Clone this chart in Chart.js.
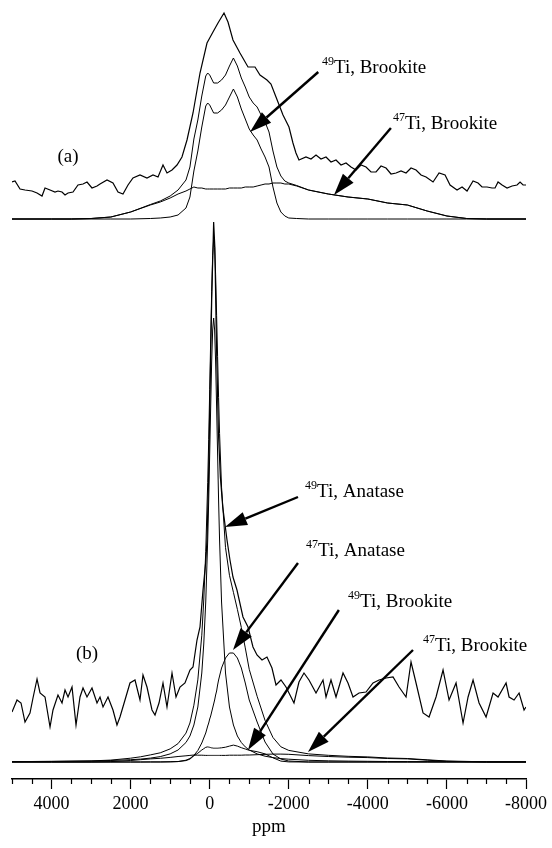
<!DOCTYPE html>
<html>
<head>
<meta charset="utf-8">
<script src="https://cdn.jsdelivr.net/npm/chart.js@4.4.1/dist/chart.umd.min.js"></script>
<style>
  html, body { margin: 0; padding: 0; background: #fff; }
  canvas { display: block; }
</style>
</head>
<body>
<canvas id="grafico" width="552" height="848"></canvas>
<script>
// desplazamientos químicos (ppm) e intensidades
// (a) muestra de brookita
const A_PPM = [5000, 4000, 3500, 3000, 2500, 2000, 1500, 1250, 1000, 800, 600, 500, 400, 300, 200, 100, 50, 0,
  -100, -200, -300, -400, -500, -600, -700, -800, -900, -1000, -1100, -1200, -1300, -1400, -1500, -1600, -1700,
  -1800, -1900, -2000, -2200, -2500, -3000, -3500, -4000, -4500, -5000, -5500, -6000, -6500, -7000, -8000];
const A_49TI = [0, 0, 0, 0, 0, 0, 0.5, 1, 2, 4, 11, 22, 48, 68, 92, 113, 116, 114,
  106, 106, 109, 114, 122, 130, 122, 110, 100, 90, 84, 79, 70, 62, 52, 32, 16,
  7, 3, 1, 0.5, 0, 0, 0, 0, 0, 0, 0, 0, 0, 0, 0];
const A_47TI = [0, 0, 0, 0.5, 2, 7, 14, 17, 21, 25, 28, 30, 32, 31, 31, 30, 30, 30,
  30, 30, 30, 30, 31, 31, 31, 31, 32, 32, 32, 33, 34, 35, 35, 36, 36,
  36, 35, 35, 33, 29, 25, 22, 20, 16, 14, 8, 3, 0.5, 0, 0];
const A_AJUSTE = [0, 0, 0, 0.5, 2, 7, 14.5, 18, 23, 29, 39, 52, 80, 99, 123, 143, 146, 144,
  136, 136, 139, 144, 153, 161, 153, 141, 132, 122, 116, 112, 104, 97, 87, 68, 52,
  43, 38, 36, 33.5, 29, 25, 22, 20, 16, 14, 8, 3, 0.5, 0, 0];
const A_EXP_PPM = [5000, 4924, 4797, 4671, 4494, 4367, 4241, 4165, 4038, 3912, 3837, 3735, 3659, 3583, 3457, 3331,
  3204, 3103, 2977, 2850, 2774, 2597, 2446, 2319, 2193, 2066, 1940, 1763, 1586, 1434, 1307, 1181, 1080, 953, 827,
  701, 574, 422, 245, 68, -83, -210, -362, -463, -589, -766, -969, -1146, -1272, -1449, -1550, -1677, -1854, -2005,
  -2106, -2182, -2258, -2435, -2562, -2689, -2815, -2942, -3068, -3195, -3321, -3448, -3574, -3701, -3827, -3954,
  -4080, -4207, -4333, -4460, -4586, -4713, -4839, -4966, -5092, -5219, -5345, -5472, -5649, -5801, -5953, -6079,
  -6256, -6383, -6509, -6661, -6787, -6888, -7015, -7141, -7217, -7293, -7395, -7521, -7648, -7774, -7850, -7926, -8000];
const A_EXP = [37, 38, 30, 29, 28, 26, 23, 31, 29, 27, 28, 27, 24, 26, 27, 34,
  35, 37, 31, 33, 35, 39, 36, 27, 25, 34, 41, 44, 41, 44, 42, 54, 46, 49, 54,
  62, 79, 106, 146, 176, 187, 196, 206, 197, 179, 166, 152, 152, 144, 139, 135, 122, 104, 92,
  76, 66, 59, 62, 60, 64, 60, 62, 57, 59, 54, 56, 52, 49, 54, 52,
  47, 47, 53, 51, 45, 46, 48, 46, 51, 49, 44, 42, 37, 46, 44, 34,
  29, 32, 28, 38, 36, 32, 32, 31, 31, 37, 34, 31, 33, 34, 37, 34, 34];

// (b) muestra mixta anatasa + brookita
const B_PPM = [5000, 4000, 3000, 2500, 2000, 1750, 1500, 1250, 1000, 800, 600, 500, 400, 300, 200, 150, 100, 50, 25, 0,
  -25, -50, -75, -100, -125, -150, -175, -200, -225, -250, -300, -400, -500, -600, -700, -800, -900, -1000,
  -1200, -1400, -1600, -1800, -2000, -2500, -3000, -3500, -4000, -4500, -5000, -5500, -6000, -7000, -8000];
const B_49TI_ANA = [0.4, 0.6, 1, 1.5, 2.3, 2.9, 3.9, 5.4, 8.1, 12, 19.5, 26, 37, 55, 89, 118, 160, 222, 262, 308,
  355, 400, 432, 444, 432, 400, 355, 308, 262, 222, 160, 89, 55, 37, 26, 19.5, 15.1, 12,
  8.1, 5.8, 4.4, 3.4, 2.8, 1.7, 1.2, 0.9, 0.7, 0.5, 0.4, 0.35, 0.3, 0.2, 0.2];
const B_47TI_ANA = [0, 0, 0, 0, 0, 0, 0, 0, 0.1, 0.4, 1.8, 3.5, 6.6, 11.5, 19, 24, 29, 36, 39, 43,
  46, 50, 54, 58, 62, 67, 71, 77, 82, 86, 94, 104, 109, 109, 104, 94, 79, 62,
  40, 20, 8, 3, 1, 0, 0, 0, 0, 0, 0, 0, 0, 0, 0];
const B_49TI_BRO = [0, 0, 0, 0, 0, 0, 0.1, 0.1, 0.3, 0.5, 1.4, 2.9, 6.2, 8.8, 12, 13.3, 14.7, 15.1, 14.9, 14.7,
  14.4, 14.1, 14, 13.8, 13.8, 13.8, 13.8, 13.8, 13.9, 14, 14.2, 14.8, 15.9, 16.9, 15.9, 14.3, 13, 11.7,
  10.3, 8.1, 4.2, 0.9, 0.1, 0, 0, 0, 0, 0, 0, 0, 0, 0, 0];
const B_47TI_BRO = [0, 0, 0.1, 0.4, 1.5, 2.3, 3.1, 3.7, 4.6, 5.5, 6.2, 6.6, 7, 6.8, 6.8, 6.7, 6.6, 6.6, 6.6, 6.6,
  6.6, 6.6, 6.6, 6.6, 6.6, 6.6, 6.6, 6.6, 6.6, 6.6, 6.6, 6.6, 6.8, 6.8, 6.8, 6.8, 7, 7,
  7.3, 7.7, 7.9, 7.9, 7.7, 6.4, 5.5, 4.8, 4.4, 3.5, 3.1, 1.8, 0.7, 0, 0];
const B_AJUSTE = [0.4, 0.6, 1.1, 1.9, 3.8, 5.2, 7.1, 9.2, 13.1, 18.4, 28.9, 39, 56.8, 82.1, 126.8, 162, 210.3, 279.7, 322.5, 372.3,
  422, 470.7, 506.6, 522.4, 514.4, 487.4, 446.4, 405.4, 364.5, 328.6, 274.8, 214.4, 186.7, 169.7, 152.7, 134.6, 114.1, 92.7,
  65.7, 41.6, 24.5, 15.2, 11.6, 8.1, 6.7, 5.7, 5.1, 4, 3.5, 2.2, 1, 0.2, 0.2];
const B_EXP_PPM = [5000, 4873, 4772, 4671, 4545, 4469, 4367, 4291, 4165, 4038, 3963, 3837, 3735, 3659, 3583, 3482,
  3381, 3280, 3204, 3103, 2977, 2850, 2774, 2698, 2572, 2446, 2345, 2269, 2142, 2016, 1889, 1763, 1687, 1586, 1459,
  1383, 1282, 1181, 1080, 953, 852, 751, 625, 498, 422, 321, 245, 169, 100, 68, 30, 0, -50, -100, -130, -170, -220,
  -270, -330, -438, -513, -589, -690, -842, -969, -1095, -1196, -1323, -1449, -1575, -1677, -1803, -1930, -2056,
  -2132, -2258, -2385, -2511, -2689, -2866, -2942, -3068, -3195, -3372, -3498, -3625, -3777, -3954, -4131, -4283,
  -4460, -4637, -4789, -4966, -5092, -5219, -5396, -5548, -5725, -5902, -6054, -6231, -6408, -6535, -6661, -6813,
  -6990, -7167, -7293, -7496, -7572, -7698, -7825, -7951, -8000];
const B_EXP = [50, 62, 59, 40, 49, 64, 83, 69, 65, 35, 52, 67, 59, 72, 65, 75,
  37, 65, 74, 65, 74, 59, 65, 55, 65, 52, 37, 45, 62, 79, 82, 62, 87, 75, 52,
  47, 59, 79, 55, 89, 65, 75, 79, 92, 95, 122, 135, 172, 200, 222, 280, 350, 460, 540, 515, 420, 330,
  285, 255, 222, 202, 185, 172, 145, 135, 115, 107, 102, 105, 94, 77, 82, 75, 65,
  59, 80, 89, 82, 69, 82, 65, 82, 65, 89, 79, 65, 69, 70, 79, 82,
  84, 85, 75, 65, 100, 79, 49, 45, 65, 92, 62, 79, 39, 65, 82, 59,
  45, 69, 65, 79, 65, 62, 69, 52, 55];

// línea base de cada espectro en unidades del eje vertical
const BASE_A = 560;
const BASE_B = 17;

// rótulos del eje x
const TICKS_X = [4000, 2000, 0, -2000, -4000, -6000, -8000];

// anotaciones: isótopo, texto, posición del texto y flecha (ppm, intensidad)
const NOTAS = [
  { sup: '', txt: '(a)', x: 3584, y: 622, centro: true },
  { sup: '', txt: '(b)', x: 3103, y: 125, centro: true },
  { sup: '49', txt: 'Ti, Brookite', x: -2840, y: 711, desde: [-2746, 707], hasta: [-1019, 647] },
  { sup: '47', txt: 'Ti, Brookite', x: -4634, y: 655, desde: [-4583, 651], hasta: [-3144, 584] },
  { sup: '49', txt: 'Ti, Anatase', x: -2411, y: 287, desde: [-2233, 282], hasta: [-387, 252] },
  { sup: '47', txt: 'Ti, Anatase', x: -2436, y: 228, desde: [-2233, 216], hasta: [-589, 129] },
  { sup: '49', txt: 'Ti, Brookite', x: -3498, y: 177, desde: [-3267, 169], hasta: [-969, 29] },
  { sup: '47', txt: 'Ti, Brookite', x: -5396, y: 133, desde: [-5142, 129], hasta: [-2486, 27] }
];

const FUENTE = "'Liberation Serif', 'Times New Roman', serif";

function serie(xs, ys, base) {
  return xs.map((x, i) => ({ x: x, y: ys[i] + base }));
}

function linea(data, ancho) {
  return {
    data: data,
    borderColor: '#000',
    borderWidth: ancho,
    pointRadius: 0,
    tension: 0,
    fill: false
  };
}

// marcas menores del eje cada 500 ppm
const marcasMenores = {
  id: 'marcasMenores',
  afterDraw(chart) {
    const sx = chart.scales.x;
    const ctx = chart.ctx;
    ctx.save();
    ctx.strokeStyle = '#000';
    ctx.lineWidth = 1.2;
    for (let v = -8000; v <= 5000; v += 500) {
      if (v % 2000 === 0) continue;
      const px = Math.round(sx.getPixelForValue(v)) + 0.5;
      ctx.beginPath();
      ctx.moveTo(px, sx.top);
      ctx.lineTo(px, sx.top + 5);
      ctx.stroke();
    }
    ctx.restore();
  }
};

// flechas y textos
const anotaciones = {
  id: 'anotaciones',
  afterDatasetsDraw(chart) {
    const sx = chart.scales.x, sy = chart.scales.y;
    const ctx = chart.ctx;
    ctx.save();
    ctx.fillStyle = '#000';
    ctx.strokeStyle = '#000';
    NOTAS.forEach(n => {
      if (n.desde) {
        const x1 = sx.getPixelForValue(n.desde[0]), y1 = sy.getPixelForValue(n.desde[1]);
        const x2 = sx.getPixelForValue(n.hasta[0]), y2 = sy.getPixelForValue(n.hasta[1]);
        const ang = Math.atan2(y2 - y1, x2 - x1);
        const largo = 22, media = 7;
        const bx = x2 - largo * Math.cos(ang), by = y2 - largo * Math.sin(ang);
        ctx.lineWidth = 2.4;
        ctx.beginPath();
        ctx.moveTo(x1, y1);
        ctx.lineTo(bx, by);
        ctx.stroke();
        ctx.beginPath();
        ctx.moveTo(x2, y2);
        ctx.lineTo(bx + media * Math.sin(ang), by - media * Math.cos(ang));
        ctx.lineTo(bx - media * Math.sin(ang), by + media * Math.cos(ang));
        ctx.closePath();
        ctx.fill();
      }
      const px = sx.getPixelForValue(n.x), py = sy.getPixelForValue(n.y);
      ctx.textBaseline = 'middle';
      if (n.centro) {
        ctx.textAlign = 'center';
        ctx.font = '19px ' + FUENTE;
        ctx.fillText(n.txt, px, py);
      } else {
        ctx.textAlign = 'left';
        ctx.font = '12px ' + FUENTE;
        ctx.fillText(n.sup, px, py - 6);
        const w = ctx.measureText(n.sup).width;
        ctx.font = '19px ' + FUENTE;
        ctx.fillText(n.txt, px + w, py);
      }
    });
    ctx.restore();
  }
};

const ctx = document.getElementById('grafico').getContext('2d');

new Chart(ctx, {
  type: 'line',
  data: {
    datasets: [
      linea(serie(A_EXP_PPM, A_EXP, BASE_A), 1.2),
      linea(serie(A_PPM, A_AJUSTE, BASE_A), 1),
      linea(serie(A_PPM, A_49TI, BASE_A), 1),
      linea(serie(A_PPM, A_47TI, BASE_A), 1),
      linea(serie(B_EXP_PPM, B_EXP, BASE_B), 1.2),
      linea(serie(B_PPM, B_AJUSTE, BASE_B), 1),
      linea(serie(B_PPM, B_49TI_ANA, BASE_B), 1),
      linea(serie(B_PPM, B_47TI_ANA, BASE_B), 1),
      linea(serie(B_PPM, B_49TI_BRO, BASE_B), 1),
      linea(serie(B_PPM, B_47TI_BRO, BASE_B), 1)
    ]
  },
  options: {
    responsive: false,
    animation: false,
    devicePixelRatio: 1,
    layout: { padding: { left: 12, right: 26, top: 0, bottom: 10 } },
    plugins: {
      legend: { display: false },
      tooltip: { enabled: false },
      title: { display: false }
    },
    scales: {
      x: {
        type: 'linear',
        reverse: true,
        min: -8000,
        max: 5000,
        afterFit(scale) { scale.height = 59; },
        afterBuildTicks(scale) { scale.ticks = TICKS_X.map(v => ({ value: v })); },
        ticks: {
          autoSkip: false,
          maxRotation: 0,
          padding: 4,
          color: '#000',
          font: { family: FUENTE, size: 18 },
          callback: v => String(v)
        },
        grid: {
          drawOnChartArea: false,
          drawTicks: true,
          tickLength: 10,
          tickWidth: 1.2,
          tickColor: '#000'
        },
        border: { display: true, color: '#000', width: 1.5 },
        title: {
          display: true,
          text: 'ppm',
          color: '#000',
          padding: 0,
          font: { family: FUENTE, size: 19 }
        }
      },
      y: {
        display: false,
        min: 0,
        max: 779
      }
    }
  },
  plugins: [marcasMenores, anotaciones]
});
</script>
</body>
</html>
